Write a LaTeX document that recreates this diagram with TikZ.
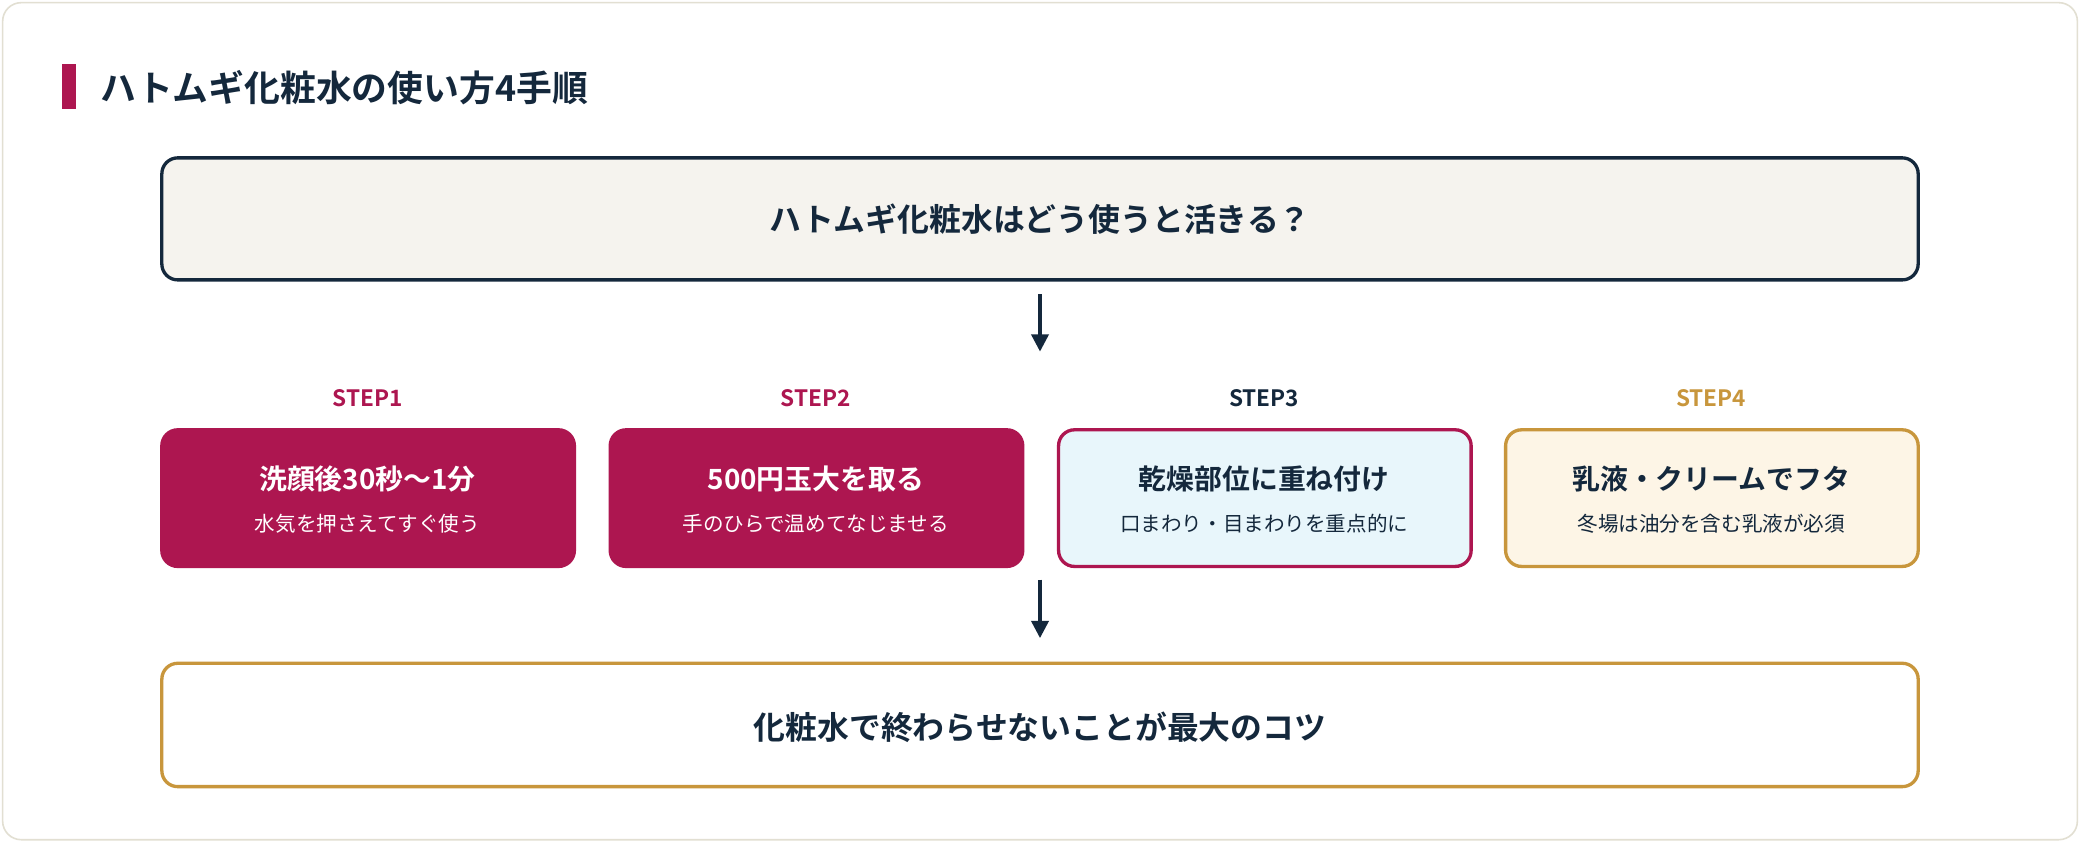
\documentclass[tikz,border=0pt]{standalone}
\usepackage{fontspec}
\setmainfont{Noto Sans CJK JP}
\newfontfamily\jpb{Noto Sans CJK JP}[BoldFont={* Bold}]
\usetikzlibrary{arrows.meta}
\definecolor{navy}{HTML}{14283C}
\definecolor{crim}{HTML}{AD1650}
\definecolor{gold}{HTML}{C8963C}
\definecolor{cream}{HTML}{F5F3EE}
\definecolor{ice}{HTML}{E8F6FB}
\definecolor{pale}{HTML}{FDF5E6}
\definecolor{edge}{HTML}{E2DFD2}
\begin{document}
\begin{tikzpicture}[x=1pt,y=-1pt,
  box/.style={rounded corners=12pt,line width=2.5pt},
  steplbl/.style={font=\jpb\bfseries\fontsize{17}{20}\selectfont},
  ttl/.style={font=\jpb\bfseries\fontsize{21}{25}\selectfont},
  sub/.style={font=\jpb\fontsize{15.5}{19}\selectfont},
  big/.style={font=\jpb\bfseries\fontsize{24}{28}\selectfont,text=navy},
  arr/.style={-{Triangle[length=13pt,width=13pt]},line width=2.5pt,navy}]
\useasboundingbox (0,0) rectangle (1568,635);
\fill[white] (0,0) rectangle (1568,635);
\draw[edge,line width=1.2pt,rounded corners=14pt,fill=white] (2,2) rectangle (1566,633);
\fill[crim] (47,48) rectangle (57,82);
\node[anchor=west,font=\jpb\bfseries\fontsize{27}{32}\selectfont,text=navy] (title) at (72,66) {ハトムギ化粧水の使い方4手順};
\draw[box,navy,fill=cream] (122,119) rectangle (1446,211);
\node[big] (q) at (784,165) {ハトムギ化粧水はどう使うと活きる？};
\coordinate (a1) at (784,222);
\coordinate (a2) at (784,265);
\draw[arr] (a1) -- (a2);
\node[steplbl,text=crim] (s1) at (277,300) {STEP1};
\node[steplbl,text=crim] (s2) at (615,300) {STEP2};
\node[steplbl,text=navy] (s3) at (953,300) {STEP3};
\node[steplbl,text=gold] (s4) at (1290,300) {STEP4};
\draw[box,crim,fill=crim] (122,324) rectangle (433,427);
\draw[box,crim,fill=crim] (460,324) rectangle (771,427);
\draw[box,crim,fill=ice] (798,324) rectangle (1109,427);
\draw[box,gold,fill=pale] (1135,324) rectangle (1446,427);
\node[ttl,text=white] (t1) at (277,361) {洗顔後30秒〜1分};
\node[sub,text=white] (u1) at (277,395) {水気を押さえてすぐ使う};
\node[ttl,text=white] (t2) at (615,361) {500円玉大を取る};
\node[sub,text=white] (u2) at (615,395) {手のひらで温めてなじませる};
\node[ttl,text=navy] (t3) at (953,361) {乾燥部位に重ね付け};
\node[sub,text=navy] (u3) at (953,395) {口まわり・目まわりを重点的に};
\node[ttl,text=navy] (t4) at (1290,361) {乳液・クリームでフタ};
\node[sub,text=navy] (u4) at (1290,395) {冬場は油分を含む乳液が必須};
\coordinate (b1) at (784,437);
\coordinate (b2) at (784,481);
\draw[arr] (b1) -- (b2);
\draw[box,gold,fill=white] (122,500) rectangle (1446,593);
\node[big] (c) at (784,548) {化粧水で終わらせないことが最大のコツ};
\end{tikzpicture}
\end{document}
